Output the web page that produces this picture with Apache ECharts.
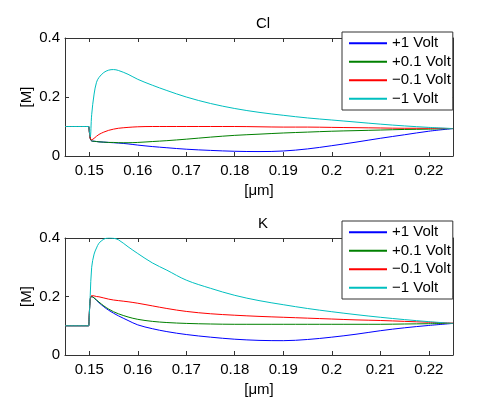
<!DOCTYPE html>
<html>
<head>
<meta charset="utf-8">
<script src="https://cdn.jsdelivr.net/npm/echarts@6/dist/echarts.min.js"></script>
<style>
  html, body { margin: 0; padding: 0; background: #fff; }
  #chart { width: 500px; height: 398px; }
</style>
</head>
<body>
<div id="chart"></div>
<script>
// position along the membrane [µm]
var xs = [0.145, 0.1499, 0.15, 0.1502, 0.1505, 0.151, 0.1515, 0.152, 0.153, 0.154, 0.155, 0.156, 0.158,
  0.16, 0.163, 0.166, 0.17, 0.175, 0.18, 0.185, 0.19, 0.195, 0.2, 0.205, 0.21, 0.215, 0.22, 0.225]
var legendNames = ['+1 Volt', '+0.1 Volt', '\u22120.1 Volt', '\u22121 Volt']
var lineColors = ['#0000ff', '#008000', '#ff0000', '#00bfbf']
var xTicks = [0.15, 0.16, 0.17, 0.18, 0.19, 0.2, 0.21, 0.22]
var yTicks = [0, 0.2, 0.4]

// Cl concentration [M]
var clPlus1 = [0.1, 0.1, 0.1, 0.06, 0.051, 0.05, 0.049, 0.048, 0.047, 0.046, 0.045, 0.044, 0.041,
  0.037, 0.032, 0.028, 0.023, 0.019, 0.016, 0.015, 0.017, 0.024, 0.035, 0.047, 0.06, 0.072, 0.084, 0.093]
var clPlus01 = [0.1, 0.1, 0.1, 0.06, 0.051, 0.05, 0.049, 0.048, 0.047, 0.046, 0.046, 0.045, 0.045,
  0.046, 0.049, 0.052, 0.057, 0.064, 0.07, 0.074, 0.078, 0.081, 0.084, 0.086, 0.088, 0.09, 0.091, 0.093]
var clMinus01 = [0.1, 0.1, 0.1, 0.06, 0.055, 0.06, 0.067, 0.073, 0.081, 0.087, 0.091, 0.094, 0.097,
  0.099, 0.1, 0.1, 0.1, 0.1, 0.1, 0.099, 0.098, 0.098, 0.097, 0.096, 0.095, 0.094, 0.094, 0.093]
var clMinus1 = [0.1, 0.1, 0.1, 0.065, 0.14, 0.21, 0.25, 0.266, 0.283, 0.291, 0.293, 0.29, 0.277,
  0.26, 0.24, 0.222, 0.2, 0.178, 0.161, 0.148, 0.138, 0.129, 0.122, 0.115, 0.108, 0.102, 0.097, 0.093]

// K concentration [M]
var kPlus1 = [0.1, 0.1, 0.1, 0.19, 0.2, 0.195, 0.187, 0.179, 0.165, 0.153, 0.143, 0.134, 0.118,
  0.103, 0.09, 0.08, 0.07, 0.061, 0.054, 0.05, 0.049, 0.053, 0.061, 0.071, 0.083, 0.093, 0.101, 0.108]
var kPlus01 = [0.1, 0.1, 0.1, 0.19, 0.2, 0.195, 0.188, 0.181, 0.168, 0.157, 0.148, 0.141, 0.13,
  0.122, 0.115, 0.111, 0.108, 0.106, 0.105, 0.105, 0.105, 0.105, 0.105, 0.105, 0.105, 0.106, 0.107, 0.108]
var kMinus01 = [0.1, 0.1, 0.1, 0.19, 0.203, 0.202, 0.2, 0.199, 0.195, 0.191, 0.188, 0.186, 0.182,
  0.177, 0.168, 0.159, 0.149, 0.141, 0.136, 0.132, 0.129, 0.126, 0.123, 0.12, 0.118, 0.115, 0.112, 0.109]
var kMinus1 = [0.1, 0.1, 0.1, 0.204, 0.3, 0.345, 0.366, 0.382, 0.396, 0.4, 0.399, 0.394, 0.37,
  0.347, 0.315, 0.29, 0.256, 0.228, 0.204, 0.186, 0.172, 0.159, 0.148, 0.138, 0.129, 0.121, 0.114, 0.108]

var font = 'Liberation Sans, Arial, sans-serif'
var frame = '#333'

function pairs(arr) {
  return xs.map(function (x, i) { return [x, arr[i]] })
}

function xAxisOf(grid, top) {
  return {
    type: 'value', gridIndex: grid, position: top ? 'top' : 'bottom',
    min: 0.145, max: 0.225,
    name: top ? '' : '[\u03bcm]', nameLocation: 'middle', nameGap: 27,
    nameMoveOverlap: false,
    nameTextStyle: { fontFamily: font, fontSize: 15, color: '#000' },
    axisLine: { show: true, onZero: false, lineStyle: { color: frame, width: 1 } },
    axisTick: { show: true, inside: true, length: 4, customValues: xTicks, lineStyle: { color: frame } },
    axisLabel: {
      show: !top, customValues: xTicks, margin: 7,
      fontFamily: font, fontSize: 15, color: '#000',
      formatter: function (v) { return String(+v.toFixed(2)) }
    },
    splitLine: { show: false }
  }
}

function yAxisOf(grid, right) {
  return {
    type: 'value', gridIndex: grid, position: right ? 'right' : 'left',
    min: 0, max: 0.4,
    name: right ? '' : '[M]', nameLocation: 'middle', nameGap: 31,
    nameMoveOverlap: false,
    nameTextStyle: { fontFamily: font, fontSize: 15, color: '#000' },
    axisLine: { show: true, onZero: false, lineStyle: { color: frame, width: 1 } },
    axisTick: { show: true, inside: true, length: 4, customValues: yTicks, lineStyle: { color: frame } },
    axisLabel: {
      show: !right, customValues: yTicks, margin: 5,
      fontFamily: font, fontSize: 15, color: '#000'
    },
    splitLine: { show: false }
  }
}

function legendOf(top) {
  return {
    data: legendNames, orient: 'vertical', left: 342, top: top,
    icon: 'rect', itemWidth: 38, itemHeight: 2, itemGap: 0,
    padding: [2, 2, 2, 7],
    backgroundColor: '#fff', borderColor: frame, borderWidth: 1, borderRadius: 0,
    textStyle: { fontFamily: font, fontSize: 15, color: '#000', lineHeight: 18.5 },
    selectedMode: false
  }
}

var groups = [[clPlus1, clPlus01, clMinus01, clMinus1], [kPlus1, kPlus01, kMinus01, kMinus1]]
var series = []
groups.forEach(function (g, gi) {
  g.forEach(function (arr, si) {
    series.push({
      name: legendNames[si], type: 'line',
      xAxisIndex: gi * 2, yAxisIndex: gi * 2,
      data: pairs(arr), showSymbol: false,
      smooth: 0.35,
      lineStyle: { color: lineColors[si], width: 1 },
      itemStyle: { color: lineColors[si] },
      animation: false
    })
  })
})

var myChart = echarts.init(document.getElementById('chart'))
var option = {
  backgroundColor: '#fff',
  animation: false,
  title: [
    { text: 'Cl', left: 258, top: 11, textAlign: 'center',
      textStyle: { fontFamily: font, fontSize: 15, fontWeight: 'normal', color: '#000' } },
    { text: 'K', left: 258, top: 211, textAlign: 'center',
      textStyle: { fontFamily: font, fontSize: 15, fontWeight: 'normal', color: '#000' } }
  ],
  legend: [legendOf(32), legendOf(221)],
  grid: [
    { left: 65, right: 47, top: 38, height: 118 },
    { left: 65, right: 47, top: 238, height: 119 }
  ],
  xAxis: [xAxisOf(0, false), xAxisOf(0, true), xAxisOf(1, false), xAxisOf(1, true)],
  yAxis: [yAxisOf(0, false), yAxisOf(0, true), yAxisOf(1, false), yAxisOf(1, true)],
  series: series
}
myChart.setOption(option)
</script>
</body>
</html>
